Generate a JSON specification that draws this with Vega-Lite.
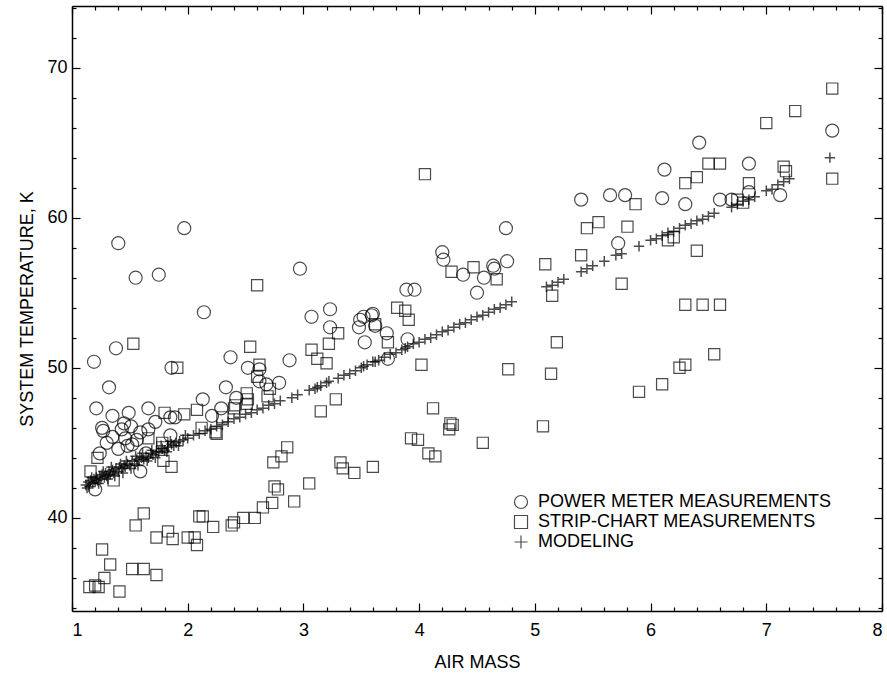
{
  "$schema": "https://vega.github.io/schema/vega-lite/v6.json",
  "width": 810,
  "height": 605,
  "autosize": {"type": "none"},
  "padding": {"left": 72, "top": 6, "right": 5, "bottom": 64},
  "background": "white",
  "config": {
    "view": {"stroke": null},
    "font": "Liberation Sans",
    "axis": {
      "grid": false,
      "domainColor": "black",
      "domainWidth": 1.5,
      "tickColor": "black",
      "tickWidth": 1.2,
      "labelColor": "black",
      "titleColor": "black",
      "labelFont": "Liberation Sans",
      "titleFont": "Liberation Sans",
      "labelFontSize": 18,
      "titleFontSize": 18,
      "titleFontWeight": "normal"
    },
    "legend": {
      "labelFont": "Liberation Sans",
      "labelFontSize": 18,
      "labelColor": "black",
      "labelLimit": 0
    }
  },
  "data": {
    "values": [
      {"s":"P","x":1.40,"y":58.3},{"s":"P","x":1.55,"y":56.0},{"s":"P","x":1.75,"y":56.2},{"s":"P","x":1.97,"y":59.3},
      {"s":"P","x":2.14,"y":53.7},{"s":"P","x":1.38,"y":51.3},{"s":"P","x":1.19,"y":50.4},{"s":"P","x":1.86,"y":50.0},
      {"s":"P","x":1.32,"y":48.7},{"s":"P","x":2.37,"y":50.7},{"s":"P","x":2.52,"y":50.0},{"s":"P","x":2.62,"y":49.9},
      {"s":"P","x":2.88,"y":50.5},{"s":"P","x":2.33,"y":48.7},{"s":"P","x":2.42,"y":48.0},{"s":"P","x":2.68,"y":48.9},
      {"s":"P","x":2.13,"y":47.9},{"s":"P","x":2.29,"y":47.3},{"s":"P","x":2.21,"y":46.8},{"s":"P","x":1.66,"y":47.3},
      {"s":"P","x":1.49,"y":47.0},{"s":"P","x":1.21,"y":47.3},{"s":"P","x":1.35,"y":46.8},{"s":"P","x":1.72,"y":46.4},
      {"s":"P","x":1.85,"y":46.7},{"s":"P","x":1.89,"y":46.7},{"s":"P","x":1.26,"y":46.0},{"s":"P","x":1.27,"y":45.8},
      {"s":"P","x":1.43,"y":45.9},{"s":"P","x":1.51,"y":46.1},{"s":"P","x":1.59,"y":45.7},{"s":"P","x":1.35,"y":45.4},
      {"s":"P","x":1.46,"y":45.3},{"s":"P","x":1.56,"y":45.2},{"s":"P","x":1.48,"y":44.8},{"s":"P","x":1.66,"y":45.9},
      {"s":"P","x":1.64,"y":44.3},{"s":"P","x":1.85,"y":45.5},{"s":"P","x":1.24,"y":44.3},{"s":"P","x":1.59,"y":43.1},
      {"s":"P","x":1.20,"y":41.9},{"s":"P","x":1.40,"y":44.6},{"s":"P","x":1.52,"y":44.9},{"s":"P","x":1.30,"y":45.0},
      {"s":"P","x":1.45,"y":46.3},{"s":"P","x":2.62,"y":49.1},{"s":"P","x":2.79,"y":49.0},{"s":"P","x":2.97,"y":56.6},
      {"s":"P","x":3.07,"y":53.4},{"s":"P","x":3.23,"y":53.9},{"s":"P","x":3.23,"y":52.7},{"s":"P","x":3.49,"y":53.2},
      {"s":"P","x":3.48,"y":52.7},{"s":"P","x":3.59,"y":53.5},{"s":"P","x":3.62,"y":52.8},{"s":"P","x":3.53,"y":51.7},
      {"s":"P","x":3.72,"y":52.3},{"s":"P","x":3.90,"y":51.9},{"s":"P","x":3.73,"y":50.6},{"s":"P","x":3.89,"y":55.2},
      {"s":"P","x":3.96,"y":55.2},{"s":"P","x":4.20,"y":57.7},{"s":"P","x":4.21,"y":57.2},{"s":"P","x":4.38,"y":56.2},
      {"s":"P","x":4.64,"y":56.8},{"s":"P","x":4.56,"y":56.0},{"s":"P","x":4.65,"y":56.6},{"s":"P","x":4.76,"y":57.1},
      {"s":"P","x":4.50,"y":55.0},{"s":"P","x":4.75,"y":59.3},{"s":"P","x":3.60,"y":53.6},{"s":"P","x":3.52,"y":53.4},
      {"s":"P","x":5.40,"y":61.2},{"s":"P","x":5.65,"y":61.5},{"s":"P","x":5.78,"y":61.5},{"s":"P","x":5.72,"y":58.3},
      {"s":"P","x":6.10,"y":61.3},{"s":"P","x":6.12,"y":63.2},{"s":"P","x":6.30,"y":60.9},{"s":"P","x":6.42,"y":65.0},
      {"s":"P","x":6.60,"y":61.2},{"s":"P","x":6.70,"y":61.2},{"s":"P","x":6.85,"y":63.6},{"s":"P","x":6.85,"y":61.7},
      {"s":"P","x":7.12,"y":61.5},{"s":"P","x":7.57,"y":65.8},

      {"s":"S","x":1.16,"y":43.1},{"s":"S","x":1.20,"y":35.5},{"s":"S","x":1.15,"y":35.4},{"s":"S","x":1.23,"y":35.4},
      {"s":"S","x":1.28,"y":36.0},{"s":"S","x":1.26,"y":37.9},{"s":"S","x":1.33,"y":36.9},{"s":"S","x":1.41,"y":35.1},
      {"s":"S","x":1.52,"y":36.6},{"s":"S","x":1.55,"y":39.5},{"s":"S","x":1.62,"y":40.3},{"s":"S","x":1.62,"y":36.6},
      {"s":"S","x":1.73,"y":36.2},{"s":"S","x":1.73,"y":38.7},{"s":"S","x":1.83,"y":39.1},{"s":"S","x":1.87,"y":38.6},
      {"s":"S","x":2.00,"y":38.7},{"s":"S","x":2.06,"y":38.7},{"s":"S","x":2.08,"y":38.2},{"s":"S","x":2.10,"y":40.1},
      {"s":"S","x":2.13,"y":40.1},{"s":"S","x":2.22,"y":39.4},{"s":"S","x":2.38,"y":39.5},{"s":"S","x":2.40,"y":39.7},
      {"s":"S","x":2.48,"y":40.0},{"s":"S","x":2.58,"y":40.0},{"s":"S","x":2.65,"y":40.7},{"s":"S","x":2.73,"y":41.0},
      {"s":"S","x":2.75,"y":42.1},{"s":"S","x":2.74,"y":43.7},{"s":"S","x":2.81,"y":44.1},{"s":"S","x":2.86,"y":44.7},
      {"s":"S","x":2.92,"y":41.1},{"s":"S","x":3.05,"y":42.3},{"s":"S","x":3.28,"y":47.9},{"s":"S","x":3.15,"y":47.1},
      {"s":"S","x":4.12,"y":47.3},{"s":"S","x":4.29,"y":46.2},{"s":"S","x":4.27,"y":46.3},{"s":"S","x":4.26,"y":45.9},
      {"s":"S","x":3.93,"y":45.3},{"s":"S","x":3.99,"y":45.2},{"s":"S","x":4.08,"y":44.3},{"s":"S","x":4.14,"y":44.1},
      {"s":"S","x":4.55,"y":45.0},{"s":"S","x":5.07,"y":46.1},{"s":"S","x":3.32,"y":43.7},{"s":"S","x":3.34,"y":43.3},
      {"s":"S","x":3.44,"y":43.0},{"s":"S","x":3.60,"y":43.4},{"s":"S","x":2.78,"y":41.9},
      {"s":"S","x":1.36,"y":42.5},{"s":"S","x":1.86,"y":43.4},{"s":"S","x":1.78,"y":45.0},{"s":"S","x":1.66,"y":45.3},
      {"s":"S","x":2.12,"y":46.0},{"s":"S","x":2.25,"y":45.6},{"s":"S","x":2.41,"y":47.5},{"s":"S","x":2.51,"y":48.3},
      {"s":"S","x":2.51,"y":47.6},{"s":"S","x":1.97,"y":46.9},{"s":"S","x":2.08,"y":47.2},{"s":"S","x":1.80,"y":47.0},
      {"s":"S","x":1.79,"y":43.8},{"s":"S","x":1.53,"y":51.6},{"s":"S","x":2.54,"y":51.4},{"s":"S","x":1.91,"y":50.0},
      {"s":"S","x":2.62,"y":50.2},{"s":"S","x":2.60,"y":49.4},{"s":"S","x":2.52,"y":47.9},{"s":"S","x":2.40,"y":47.3},
      {"s":"S","x":2.71,"y":48.6},{"s":"S","x":2.69,"y":48.1},{"s":"S","x":2.30,"y":46.7},{"s":"S","x":2.24,"y":45.7},
      {"s":"S","x":1.78,"y":44.7},{"s":"S","x":1.22,"y":44.0},{"s":"S","x":2.60,"y":55.5},{"s":"S","x":4.05,"y":62.9},
      {"s":"S","x":4.47,"y":56.7},{"s":"S","x":4.28,"y":56.4},{"s":"S","x":4.67,"y":55.9},{"s":"S","x":5.09,"y":56.9},
      {"s":"S","x":5.15,"y":54.8},{"s":"S","x":3.81,"y":54.0},{"s":"S","x":3.88,"y":53.8},{"s":"S","x":3.91,"y":53.2},
      {"s":"S","x":3.30,"y":52.3},{"s":"S","x":3.22,"y":51.6},{"s":"S","x":3.07,"y":51.2},{"s":"S","x":3.12,"y":50.6},
      {"s":"S","x":3.20,"y":50.3},{"s":"S","x":3.62,"y":52.9},{"s":"S","x":3.73,"y":51.7},{"s":"S","x":4.02,"y":50.2},
      {"s":"S","x":4.77,"y":49.9},{"s":"S","x":5.14,"y":49.6},{"s":"S","x":5.19,"y":51.7},
      {"s":"S","x":5.45,"y":59.3},{"s":"S","x":5.55,"y":59.7},{"s":"S","x":5.80,"y":59.4},{"s":"S","x":5.87,"y":60.9},
      {"s":"S","x":5.75,"y":55.6},{"s":"S","x":5.40,"y":57.5},{"s":"S","x":6.15,"y":58.5},{"s":"S","x":6.20,"y":58.7},
      {"s":"S","x":6.30,"y":62.3},{"s":"S","x":6.40,"y":62.7},{"s":"S","x":6.50,"y":63.6},{"s":"S","x":6.60,"y":63.6},
      {"s":"S","x":6.40,"y":57.8},{"s":"S","x":6.75,"y":61.2},{"s":"S","x":6.80,"y":61.0},{"s":"S","x":6.85,"y":62.3},
      {"s":"S","x":7.00,"y":66.3},{"s":"S","x":7.15,"y":63.4},{"s":"S","x":7.17,"y":63.1},{"s":"S","x":7.25,"y":67.1},
      {"s":"S","x":7.57,"y":68.6},{"s":"S","x":7.57,"y":62.6},{"s":"S","x":5.90,"y":48.4},{"s":"S","x":6.10,"y":48.9},
      {"s":"S","x":6.25,"y":50.0},{"s":"S","x":6.30,"y":50.2},{"s":"S","x":6.30,"y":54.2},{"s":"S","x":6.45,"y":54.2},
      {"s":"S","x":6.60,"y":54.2},{"s":"S","x":6.55,"y":50.9},

      {"s":"M","x":1.12,"y":42.2},{"s":"M","x":1.14,"y":42.4},{"s":"M","x":1.15,"y":42.1},{"s":"M","x":1.16,"y":42.5},
      {"s":"M","x":1.18,"y":42.3},{"s":"M","x":1.19,"y":42.6},{"s":"M","x":1.20,"y":42.4},{"s":"M","x":1.21,"y":42.7},
      {"s":"M","x":1.22,"y":42.5},{"s":"M","x":1.24,"y":42.8},{"s":"M","x":1.25,"y":42.6},{"s":"M","x":1.26,"y":42.9},
      {"s":"M","x":1.28,"y":42.7},{"s":"M","x":1.29,"y":43.0},{"s":"M","x":1.30,"y":42.8},{"s":"M","x":1.32,"y":43.1},
      {"s":"M","x":1.33,"y":42.9},{"s":"M","x":1.35,"y":43.2},{"s":"M","x":1.36,"y":43.0},{"s":"M","x":1.38,"y":43.3},
      {"s":"M","x":1.40,"y":43.1},{"s":"M","x":1.41,"y":43.4},{"s":"M","x":1.43,"y":43.3},{"s":"M","x":1.45,"y":43.5},
      {"s":"M","x":1.46,"y":43.4},{"s":"M","x":1.48,"y":43.6},{"s":"M","x":1.50,"y":43.5},{"s":"M","x":1.52,"y":43.8},
      {"s":"M","x":1.54,"y":43.6},{"s":"M","x":1.56,"y":43.9},{"s":"M","x":1.58,"y":43.8},{"s":"M","x":1.60,"y":44.0},
      {"s":"M","x":1.62,"y":43.9},{"s":"M","x":1.64,"y":44.1},{"s":"M","x":1.66,"y":44.0},{"s":"M","x":1.68,"y":44.3},
      {"s":"M","x":1.70,"y":44.2},{"s":"M","x":1.73,"y":44.4},{"s":"M","x":1.75,"y":44.4},{"s":"M","x":1.78,"y":44.6},
      {"s":"M","x":1.80,"y":44.5},{"s":"M","x":1.83,"y":44.7},{"s":"M","x":1.86,"y":44.9},{"s":"M","x":1.88,"y":44.8},
      {"s":"M","x":1.90,"y":45.0},{"s":"M","x":1.93,"y":45.1},{"s":"M","x":1.96,"y":45.2},{"s":"M","x":2.00,"y":45.3},
      {"s":"M","x":1.13,"y":42.0},{"s":"M","x":1.17,"y":42.7},{"s":"M","x":1.23,"y":42.3},{"s":"M","x":1.27,"y":43.1},
      {"s":"M","x":1.31,"y":42.6},{"s":"M","x":1.34,"y":43.4},{"s":"M","x":1.37,"y":42.8},{"s":"M","x":1.42,"y":43.6},
      {"s":"M","x":1.44,"y":43.0},{"s":"M","x":1.47,"y":43.8},{"s":"M","x":1.51,"y":43.3},{"s":"M","x":1.55,"y":44.1},
      {"s":"M","x":1.57,"y":43.5},{"s":"M","x":1.61,"y":44.3},{"s":"M","x":1.65,"y":43.8},{"s":"M","x":1.69,"y":44.5},
      {"s":"M","x":1.72,"y":44.0},{"s":"M","x":1.77,"y":44.8},{"s":"M","x":1.82,"y":44.4},{"s":"M","x":1.85,"y":45.1},
      {"s":"M","x":1.92,"y":44.8},{"s":"M","x":1.98,"y":45.5},
      {"s":"M","x":2.05,"y":45.5},{"s":"M","x":2.10,"y":45.6},{"s":"M","x":2.15,"y":45.8},{"s":"M","x":2.20,"y":45.9},
      {"s":"M","x":2.25,"y":46.1},{"s":"M","x":2.30,"y":46.2},{"s":"M","x":2.35,"y":46.4},{"s":"M","x":2.40,"y":46.6},
      {"s":"M","x":2.45,"y":46.7},{"s":"M","x":2.50,"y":46.9},{"s":"M","x":2.55,"y":47.0},{"s":"M","x":2.60,"y":47.2},
      {"s":"M","x":2.65,"y":47.3},{"s":"M","x":2.70,"y":47.5},{"s":"M","x":2.75,"y":47.6},{"s":"M","x":2.80,"y":47.8},
      {"s":"M","x":2.90,"y":48.0},{"s":"M","x":2.95,"y":48.2},{"s":"M","x":3.05,"y":48.5},{"s":"M","x":3.10,"y":48.6},
      {"s":"M","x":3.12,"y":48.7},{"s":"M","x":3.15,"y":48.8},{"s":"M","x":3.20,"y":49.0},{"s":"M","x":3.22,"y":49.1},
      {"s":"M","x":3.30,"y":49.3},{"s":"M","x":3.35,"y":49.5},{"s":"M","x":3.40,"y":49.6},{"s":"M","x":3.45,"y":49.8},
      {"s":"M","x":3.50,"y":50.0},{"s":"M","x":3.52,"y":50.1},{"s":"M","x":3.55,"y":50.2},{"s":"M","x":3.60,"y":50.4},
      {"s":"M","x":3.62,"y":50.4},{"s":"M","x":3.65,"y":50.5},{"s":"M","x":3.70,"y":50.7},{"s":"M","x":3.75,"y":50.9},
      {"s":"M","x":3.80,"y":51.0},{"s":"M","x":3.85,"y":51.2},{"s":"M","x":3.88,"y":51.3},{"s":"M","x":3.90,"y":51.4},
      {"s":"M","x":3.95,"y":51.6},{"s":"M","x":4.00,"y":51.7},{"s":"M","x":4.05,"y":51.9},{"s":"M","x":4.10,"y":52.0},
      {"s":"M","x":4.15,"y":52.2},{"s":"M","x":4.20,"y":52.4},{"s":"M","x":4.25,"y":52.5},{"s":"M","x":4.30,"y":52.7},
      {"s":"M","x":4.35,"y":52.9},{"s":"M","x":4.40,"y":53.0},{"s":"M","x":4.45,"y":53.2},{"s":"M","x":4.50,"y":53.4},
      {"s":"M","x":4.55,"y":53.5},{"s":"M","x":4.60,"y":53.7},{"s":"M","x":4.65,"y":53.9},{"s":"M","x":4.70,"y":54.0},
      {"s":"M","x":4.75,"y":54.2},{"s":"M","x":4.80,"y":54.4},
      {"s":"M","x":5.10,"y":55.4},{"s":"M","x":5.15,"y":55.5},{"s":"M","x":5.20,"y":55.7},{"s":"M","x":5.25,"y":55.9},
      {"s":"M","x":5.40,"y":56.4},{"s":"M","x":5.45,"y":56.6},{"s":"M","x":5.50,"y":56.8},{"s":"M","x":5.60,"y":57.1},
      {"s":"M","x":5.70,"y":57.5},{"s":"M","x":5.75,"y":57.6},{"s":"M","x":5.90,"y":58.1},{"s":"M","x":6.00,"y":58.5},
      {"s":"M","x":6.05,"y":58.6},{"s":"M","x":6.10,"y":58.8},{"s":"M","x":6.15,"y":59.0},{"s":"M","x":6.20,"y":59.1},
      {"s":"M","x":6.25,"y":59.3},{"s":"M","x":6.30,"y":59.5},{"s":"M","x":6.35,"y":59.6},{"s":"M","x":6.40,"y":59.8},
      {"s":"M","x":6.45,"y":59.9},{"s":"M","x":6.50,"y":60.1},{"s":"M","x":6.55,"y":60.3},{"s":"M","x":6.70,"y":60.7},
      {"s":"M","x":6.75,"y":60.9},{"s":"M","x":6.80,"y":61.1},{"s":"M","x":6.85,"y":61.2},{"s":"M","x":6.90,"y":61.4},
      {"s":"M","x":7.00,"y":61.8},{"s":"M","x":7.05,"y":61.9},{"s":"M","x":7.10,"y":62.2},{"s":"M","x":7.15,"y":62.4},
      {"s":"M","x":7.20,"y":62.6},{"s":"M","x":7.55,"y":64.0}
    ]
  },
  "layer": [
    {
      "transform": [{"filter": "datum.s === 'P'"}],
      "mark": {"type": "point", "color": "black", "filled": false, "strokeWidth": 1.2, "size": 170},
      "encoding": {
        "x": {"field": "x", "type": "quantitative", "scale": {"domain": [1, 8], "nice": false, "zero": false},
              "axis": {"orient": "bottom", "values": [1,2,3,4,5,6,7,8], "tickSize": -8, "labelPadding": 18, "title": "AIR MASS", "titlePadding": 14, "format": "d"}},
        "y": {"field": "y", "type": "quantitative", "scale": {"domain": [33.8, 74.1], "nice": false, "zero": false},
              "axis": {"orient": "left", "values": [40,50,60,70], "tickSize": -8, "labelPadding": 13, "title": "SYSTEM TEMPERATURE, K", "titlePadding": 10, "format": "d"}},
        "shape": {"field": "s", "type": "nominal",
                  "scale": {"domain": ["P","S","M"], "range": ["circle","square","M-1,0H1M0,-1V1"]},
                  "legend": {"title": null, "orient": "none", "legendX": 440, "legendY": 487,
                             "symbolSize": 170, "symbolStrokeColor": "black", "symbolStrokeWidth": 1.2, "symbolFillColor": "transparent",
                             "labelOffset": 8, "rowPadding": 2, "labelLimit": 0,
                             "labelExpr": "datum.label === 'P' ? 'POWER METER MEASUREMENTS' : datum.label === 'S' ? 'STRIP-CHART MEASUREMENTS' : 'MODELING'"}}
      }
    },
    {
      "transform": [{"filter": "datum.s === 'S'"}],
      "mark": {"type": "point", "color": "black", "filled": false, "strokeWidth": 1.2, "size": 125},
      "encoding": {
        "x": {"field": "x", "type": "quantitative", "scale": {"domain": [1, 8], "nice": false, "zero": false},
              "axis": {"orient": "bottom", "values": [1.2,1.4,1.6,1.8,2.2,2.4,2.6,2.8,3.2,3.4,3.6,3.8,4.2,4.4,4.6,4.8,5.2,5.4,5.6,5.8,6.2,6.4,6.6,6.8,7.2,7.4,7.6,7.8], "tickSize": -4, "labels": false, "domain": false, "title": null}},
        "y": {"field": "y", "type": "quantitative", "scale": {"domain": [33.8, 74.1], "nice": false, "zero": false},
              "axis": {"orient": "left", "values": [34,36,38,42,44,46,48,52,54,56,58,62,64,66,68,72,74], "tickSize": -4, "labels": false, "domain": false, "title": null}},
        "shape": {"field": "s", "type": "nominal", "scale": {"domain": ["P","S","M"], "range": ["circle","square","M-1,0H1M0,-1V1"]}}
      }
    },
    {
      "transform": [{"filter": "datum.s === 'M'"}],
      "mark": {"type": "point", "color": "black", "filled": false, "strokeWidth": 1.5, "size": 110},
      "encoding": {
        "x": {"field": "x", "type": "quantitative", "scale": {"domain": [1, 8], "nice": false, "zero": false},
              "axis": {"orient": "top", "values": [1,2,3,4,5,6,7,8], "tickSize": -8, "labels": false, "title": null}},
        "y": {"field": "y", "type": "quantitative", "scale": {"domain": [33.8, 74.1], "nice": false, "zero": false},
              "axis": {"orient": "right", "values": [40,50,60,70], "tickSize": -8, "labels": false, "title": null}},
        "shape": {"field": "s", "type": "nominal", "scale": {"domain": ["P","S","M"], "range": ["circle","square","M-1,0H1M0,-1V1"]}}
      }
    },
    {
      "transform": [{"filter": "false"}],
      "mark": {"type": "point", "opacity": 0},
      "encoding": {
        "x": {"field": "x", "type": "quantitative", "scale": {"domain": [1, 8], "nice": false, "zero": false},
              "axis": {"orient": "top", "values": [1.2,1.4,1.6,1.8,2.2,2.4,2.6,2.8,3.2,3.4,3.6,3.8,4.2,4.4,4.6,4.8,5.2,5.4,5.6,5.8,6.2,6.4,6.6,6.8,7.2,7.4,7.6,7.8], "tickSize": -4, "labels": false, "domain": false, "title": null}},
        "y": {"field": "y", "type": "quantitative", "scale": {"domain": [33.8, 74.1], "nice": false, "zero": false},
              "axis": {"orient": "right", "values": [34,36,38,42,44,46,48,52,54,56,58,62,64,66,68,72,74], "tickSize": -4, "labels": false, "domain": false, "title": null}}
      }
    }
  ],
  "resolve": {"axis": {"x": "independent", "y": "independent"}}
}
